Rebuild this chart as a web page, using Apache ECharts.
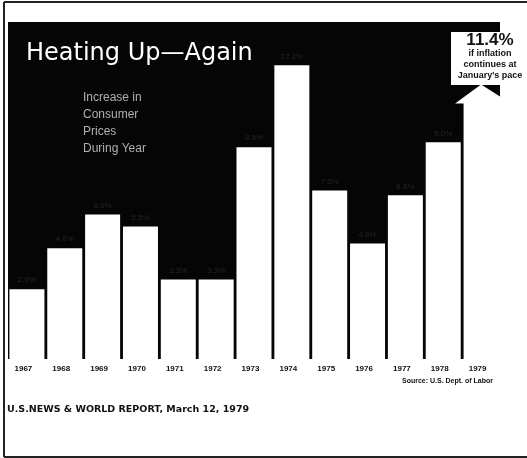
<!DOCTYPE html>
<html>
<head>
<meta charset="utf-8">
<script src="https://cdn.jsdelivr.net/npm/echarts@6/dist/echarts.min.js"></script>
<style>
  html, body { margin: 0; padding: 0; background: #fff; }
  #chart { width: 527px; height: 458px; }
</style>
</head>
<body>
<div id="chart"></div>
<script>
const years = ['1967', '1968', '1969', '1970', '1971', '1972', '1973', '1974', '1975', '1976', '1977', '1978', '1979'];
// Increase in consumer prices during year, percent
const increases = [2.9, 4.6, 6.0, 5.5, 3.3, 3.3, 8.8, 12.2, 7.0, 4.8, 6.8, 9.0, 11.4];
const projectedIndex = 12;
const subtitleLines = ['Increase in', 'Consumer', 'Prices', 'During Year'];
const noteLines = ['if inflation', 'continues at', "January's pace"];

const chart = echarts.init(document.getElementById('chart'), null, { renderer: 'canvas' });

function arrow(params, api) {
  const base = api.coord([api.value(0), 0]);
  const tip = api.coord([api.value(0), api.value(1)]);
  const x = base[0];
  const neck = tip[1] + 19;
  return {
    type: 'polygon',
    shape: {
      points: [
        [x - 17.5, base[1]], [x - 17.5, neck], [x - 26, neck], [x, tip[1]],
        [x + 30, neck], [x + 40, neck], [x + 40, base[1]],
      ],
    },
    style: { fill: '#fff' },
  };
}

const boldFont = (size, family) => ({ font: `bold ${size}px "${family || 'Liberation Sans'}"`, fill: '#111' });

const graphics = [
  { type: 'line', shape: { x1: 4, y1: 2, x2: 527, y2: 2 }, style: { stroke: '#222', lineWidth: 2 } },
  { type: 'line', shape: { x1: 4, y1: 2, x2: 4, y2: 457 }, style: { stroke: '#222', lineWidth: 2 } },
  { type: 'line', shape: { x1: 4, y1: 457, x2: 527, y2: 457 }, style: { stroke: '#222', lineWidth: 2 } },
  { type: 'rect', shape: { x: 451, y: 32, width: 80, height: 53 }, style: { fill: '#fff' } },
  {
    type: 'text', x: 490, y: 40,
    style: { text: increases[projectedIndex].toFixed(1) + '%', align: 'center', verticalAlign: 'middle', ...boldFont(17) },
  },
];
noteLines.forEach((line, i) => {
  graphics.push({
    type: 'text', x: 490, y: 54 + i * 11,
    style: { text: line, align: 'center', verticalAlign: 'middle', ...boldFont(9) },
  });
});
subtitleLines.forEach((line, i) => {
  graphics.push({
    type: 'text', x: 83, y: 98 + i * 17,
    style: { text: line, verticalAlign: 'middle', font: '12px "Liberation Sans"', fill: '#b0b0b0' },
  });
});
graphics.push({
  type: 'text', x: 493, y: 381,
  style: { text: 'Source: U.S. Dept. of Labor', align: 'right', verticalAlign: 'middle', ...boldFont(7) },
});
graphics.push({
  type: 'text', x: 7, y: 410,
  style: { text: 'U.S.NEWS & WORLD REPORT, March 12, 1979', verticalAlign: 'middle', ...boldFont(9.5, 'DejaVu Sans') },
});

const option = {
  animation: false,
  backgroundColor: '#fff',
  title: {
    text: 'Heating Up—Again',
    left: 21,
    top: 37,
    textStyle: { color: '#fff', fontFamily: 'DejaVu Sans', fontWeight: 'normal', fontSize: 24 },
  },
  grid: { left: 8, right: 27, top: 22, bottom: 99, show: true, backgroundColor: '#050505', borderWidth: 0 },
  xAxis: {
    type: 'category',
    data: years,
    axisLine: { show: false },
    axisTick: { show: false },
    axisLabel: {
      color: '#111', fontFamily: 'Liberation Sans', fontWeight: 'bold', fontSize: 8,
      margin: 6, padding: [0, 7, 0, 0], interval: 0,
    },
  },
  yAxis: { type: 'value', min: 0, max: 14, show: false, splitLine: { show: false } },
  series: [
    {
      type: 'bar',
      data: increases.map((v, i) => (i === projectedIndex ? '-' : v)),
      barWidth: 35,
      itemStyle: { color: '#fff' },
      label: {
        show: true, position: 'top', color: '#262626', fontSize: 8,
        formatter: (p) => p.value.toFixed(1) + '%',
      },
    },
    {
      type: 'custom',
      renderItem: arrow,
      data: [[projectedIndex, increases[projectedIndex]]],
      z: 3,
    },
  ],
  graphic: { elements: graphics.map((g) => ({ ...g, z: 100 })) },
};

chart.setOption(option);
</script>
</body>
</html>
